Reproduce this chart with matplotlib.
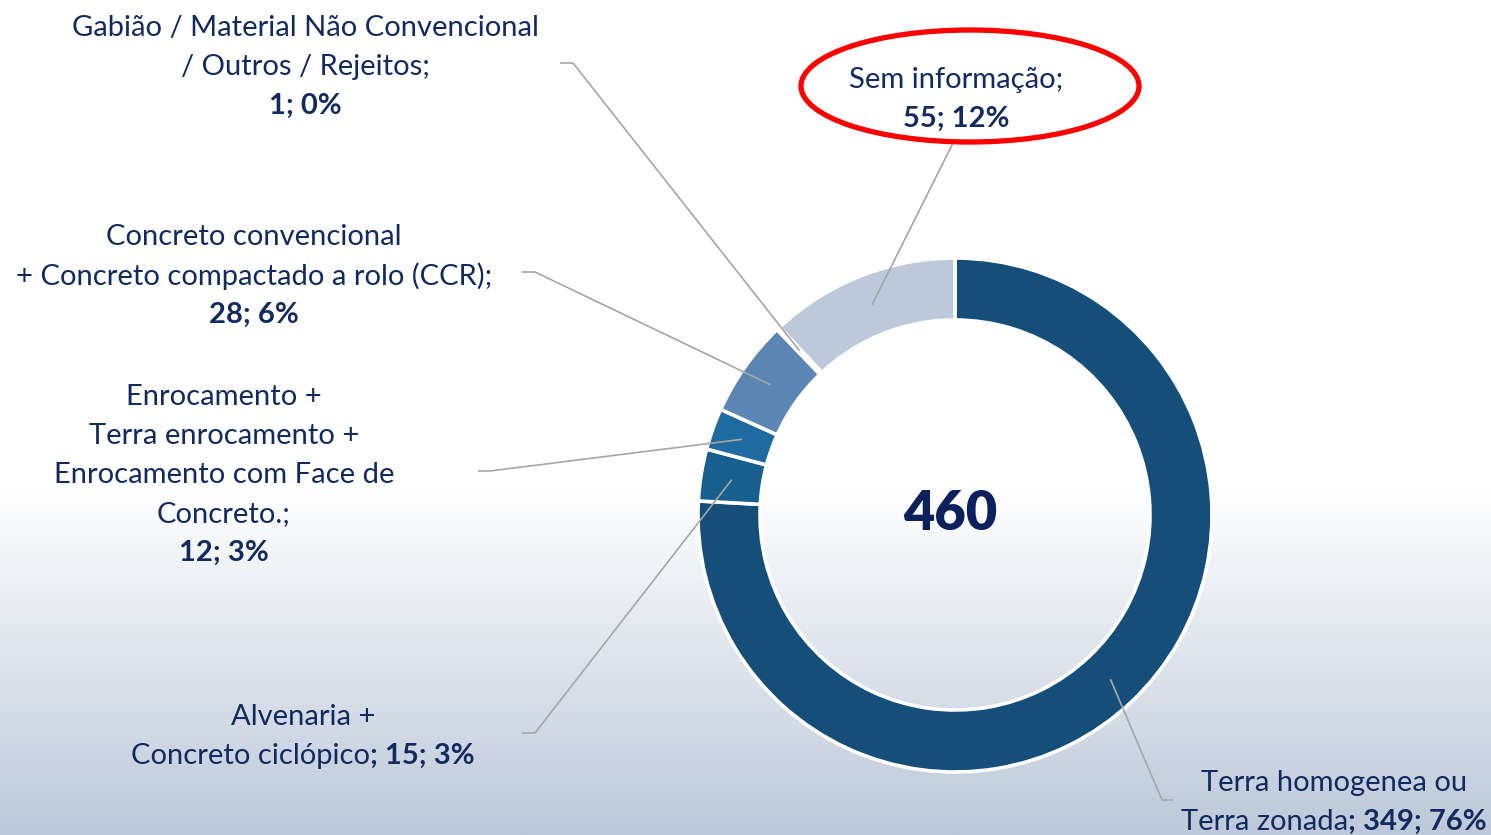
import numpy as np
import matplotlib
matplotlib.use("Agg")
import matplotlib.pyplot as plt
from matplotlib.patches import Ellipse
from matplotlib.colors import to_rgb

# ---------------------------------------------------------------------------
# Dados
# ---------------------------------------------------------------------------
categorias = [
    "Terra homogenea ou Terra zonada",
    "Alvenaria + Concreto ciclópico",
    "Enrocamento + Terra enrocamento + Enrocamento com Face de Concreto.",
    "Concreto convencional + Concreto compactado a rolo (CCR)",
    "Gabião / Material Não Convencional / Outros / Rejeitos",
    "Sem informação",
]
quantidades = [349, 15, 12, 28, 1, 55]
percentuais = ["76%", "3%", "3%", "6%", "0%", "12%"]
cores = ["#154F79", "#175F8D", "#1F6AA0", "#5B86B4", "#8FA6C6", "#BDC8DA"]
total = sum(quantidades)

W, H = 1491, 835
COR_TEXTO = "#112A5F"
COR_LINHA = "#A6A6A6"
FONTE = "Lato"
TAM = 21

fig = plt.figure(figsize=(W / 100, H / 100), dpi=100)
ax = fig.add_axes([0, 0, 1, 1])

# fundo em degrade (branco -> azul acinzentado)
topo = np.array(to_rgb("#FFFFFF"))
base = np.array(to_rgb("#BDC9D9"))
yy = np.linspace(0, 1, 400)
t = np.clip((yy - 0.585) / (1 - 0.585), 0, 1)
grad = (topo[None, :] * (1 - t[:, None]) + base[None, :] * t[:, None])[:, None, :]
ax.imshow(grad, extent=(0, W, 0, H), aspect="auto", zorder=0, origin="upper")

# rosca
cx, cy, raio, larg = 955, H - 515, 257, 62
wedges, _ = ax.pie(
    quantidades, colors=cores, startangle=90, counterclock=False,
    radius=raio, center=(cx, cy),
    wedgeprops=dict(width=larg, edgecolor="white", linewidth=2.6),
)
for w in wedges:
    w.set_zorder(2)

ax.set_xlim(0, W)
ax.set_ylim(0, H)
ax.set_aspect("auto")
ax.axis("off")

ax.text(cx - 5, H - 514, str(total), ha="center", va="center", fontsize=39,
        fontweight="heavy", color="#0B205C", family=FONTE, zorder=3)

renderer = fig.canvas.get_renderer()


def linha_mista(xc, y, partes):
    """Escreve uma linha centrada em xc com trechos normais e em negrito."""
    textos = []
    for txt, peso in partes:
        t_ = ax.text(0, H - y, txt, ha="left", va="center", fontsize=TAM,
                     fontweight=peso, color=COR_TEXTO, family=FONTE, zorder=3)
        textos.append(t_)
    larguras = [t_.get_window_extent(renderer).width for t_ in textos]
    x = xc - sum(larguras) / 2
    for t_, lw in zip(textos, larguras):
        t_.set_x(x)
        x += lw


def rotulo(xc, y0, linhas, passo=39):
    for i, partes in enumerate(linhas):
        if isinstance(partes, str):
            partes = [(partes, "normal")]
        linha_mista(xc, y0 + 2 + i * passo, partes)


def ponto_fatia(i):
    """Ponto no meio do anel, no angulo medio da fatia i."""
    w = wedges[i]
    ang = np.deg2rad((w.theta1 + w.theta2) / 2)
    r = raio - larg / 2
    return cx + r * np.cos(ang), cy + r * np.sin(ang)


def guia(i, cotovelo):
    """Linha guia do rotulo (com pequeno trecho horizontal) ate a fatia."""
    px, py = ponto_fatia(i)
    xs = [c[0] for c in cotovelo] + [px]
    ys = [H - c[1] for c in cotovelo] + [py]
    ax.plot(xs, ys, color=COR_LINHA, lw=1.2, zorder=4, solid_capstyle="butt")


# Terra
rotulo(1334, 781, ["Terra homogenea ou",
                   [("Terra zonada", "normal"),
                    (f"; {quantidades[0]}; {percentuais[0]}", "bold")]])
guia(0, [(1173, 800), (1162, 800)])

# Alvenaria
rotulo(303, 715, ["Alvenaria +",
                  [("Concreto ciclópico", "normal"),
                   (f"; {quantidades[1]}; {percentuais[1]}", "bold")]])
guia(1, [(522, 733), (535, 733)])

# Enrocamento
rotulo(224, 395, ["Enrocamento +", "Terra enrocamento +",
                  "Enrocamento com Face de", "Concreto.;",
                  [(f"{quantidades[2]}; {percentuais[2]}", "bold")]])
guia(2, [(478, 471), (490, 471)])

# Concreto
rotulo(254, 235, ["Concreto convencional",
                  "+ Concreto compactado a rolo (CCR);",
                  [(f"{quantidades[3]}; {percentuais[3]}", "bold")]])
guia(3, [(522, 272), (535, 272)])

# Gabiao
rotulo(305, 26, ["Gabião / Material Não Convencional",
                 "/ Outros / Rejeitos;",
                 [(f"{quantidades[4]}; {percentuais[4]}", "bold")]])
guia(4, [(560, 63), (573, 63)])

# Sem informacao
rotulo(956, 78, ["Sem informação;",
                 [(f"{quantidades[5]}; {percentuais[5]}", "bold")]])
guia(5, [(953, 143)])

# destaque em vermelho
ax.add_patch(Ellipse((970, H - 86), 338, 112, fill=False, edgecolor="#FF0000",
                     lw=3.8, zorder=5))

fig.savefig("out.png", dpi=100)
